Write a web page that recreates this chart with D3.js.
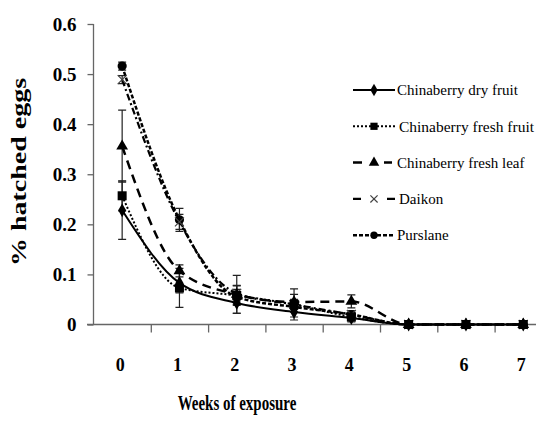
<!DOCTYPE html>
<html>
<head>
<meta charset="utf-8">
<script src="https://cdn.jsdelivr.net/npm/d3@7/dist/d3.min.js"></script>
<style>
  html, body { margin: 0; padding: 0; background: #fff; }
  svg { display: block; }
  text { font-family: "Liberation Serif", "Times New Roman", serif; }
</style>
</head>
<body>
<svg id="chart" width="536" height="421"></svg>
<script>
// ---- data ----
const weeks = [0, 1, 2, 3, 4, 5, 6, 7];
const yTicks = [0, 0.1, 0.2, 0.3, 0.4, 0.5, 0.6];
const seriesNames = ["Chinaberry dry fruit", "Chinaberry fresh fruit", "Chinaberry fresh leaf", "Daikon", "Purslane"];
const dryFruit   = [0.228, 0.083, 0.043, 0.025, 0.013, 0, 0, 0];
const freshFruit = [0.257, 0.073, 0.058, 0.040, 0.015, 0, 0, 0];
const freshLeaf  = [0.356, 0.107, 0.060, 0.045, 0.046, 0, 0, 0];
const daikon     = [0.489, 0.205, 0.062, 0.040, 0.020, 0, 0, 0];
const purslane   = [0.516, 0.209, 0.055, 0.035, 0.020, 0, 0, 0];
const dryFruitErr   = [0.058, 0.020, 0.020, 0.010, 0.008, 0, 0, 0];
const freshFruitErr = [0.030, 0.039, 0.020, 0.031, 0.008, 0, 0, 0];
const freshLeafErr  = [0.072, 0.012, 0.038, 0.015, 0.013, 0, 0, 0];
const daikonErr     = [0.008, 0.015, 0.015, 0.010, 0.008, 0, 0, 0];
const purslaneErr   = [0.008, 0.023, 0.015, 0.010, 0.008, 0, 0, 0];

const values = [dryFruit, freshFruit, freshLeaf, daikon, purslane];
const errors = [dryFruitErr, freshFruitErr, freshLeafErr, daikonErr, purslaneErr];

// ---- styles (kept separate from data) ----
const styles = [
  { dash: null,      width: 2,   marker: "diamond" },
  { dash: "2,2",     width: 2,   marker: "square" },
  { dash: "9,6",     width: 2.5, marker: "triangle" },
  { dash: "7,3,2,3", width: 2.2, marker: "cross" },
  { dash: "4,2",     width: 2.5, marker: "circle" }
];

const svg = d3.select("#chart");
const serif = "Liberation Serif, Times New Roman, serif";

const xBand = d3.scaleBand().domain(weeks).range([93.5, 93.5 + 8 * 57.3]).paddingInner(0).paddingOuter(0);
const xLin = d3.scaleLinear().domain([0, 8]).range([93.5, 93.5 + 8 * 57.3]);
const y = d3.scaleLinear().domain([0, 0.6]).range([324.5, 24]);
const cx = w => xBand(w) + xBand.bandwidth() / 2;

// ---- axes ----
const yAxis = svg.append("g").attr("transform", "translate(93.5,0)")
  .call(d3.axisLeft(y).tickValues(yTicks).tickSize(6).tickPadding(11)
    .tickFormat(d => d === 0 ? "0" : d3.format(".1f")(d)));
yAxis.attr("font-family", null);
yAxis.select(".domain").attr("stroke", "#666").attr("stroke-width", 1.3).attr("d", "M0," + y(0.6) + "V" + y(0));
yAxis.selectAll(".tick line").attr("stroke", "#666").attr("stroke-width", 1.3);
yAxis.selectAll(".tick text").style("font-family", serif).style("font-weight", "bold")
  .style("font-size", "19px").attr("fill", "#000");

const xAxis = svg.append("g").attr("transform", "translate(0,324.5)")
  .call(d3.axisBottom(xLin).tickValues([1, 2, 3, 4, 5, 6, 7, 8]).tickSize(8).tickFormat(""));
xAxis.select(".domain").attr("stroke", "#666").attr("stroke-width", 1.3).attr("d", "M87,0H560");
xAxis.selectAll(".tick line").attr("stroke", "#666").attr("stroke-width", 1.3);

const xLabels = svg.append("g").attr("transform", "translate(0,324.5)")
  .call(d3.axisBottom(xBand).tickSize(0).tickPadding(34));
xLabels.attr("font-family", null);
xLabels.select(".domain").remove();
xLabels.selectAll(".tick text").style("font-family", serif).style("font-weight", "bold")
  .style("font-size", "18px").attr("fill", "#000").attr("transform", "translate(-2,0)");

// axis titles
svg.append("text")
  .attr("transform", "translate(237,410) scale(0.75,1)")
  .attr("text-anchor", "middle").style("font-family", serif).style("font-weight", "bold")
  .style("font-size", "20px").text("Weeks of exposure");

svg.append("text")
  .attr("transform", "translate(26,172) rotate(-90) scale(1,0.78)")
  .attr("text-anchor", "middle").style("font-family", serif).style("font-weight", "bold")
  .style("font-size", "28px").text("% hatched eggs");

// ---- markers ----
function drawMarker(g, type, x0, y0, s) {
  s = s || 1;
  if (type === "diamond") {
    g.append("path").attr("d", d3.symbol().type(d3.symbolDiamond).size(55 * s)())
      .attr("transform", `translate(${x0},${y0})`).attr("fill", "#000");
  } else if (type === "square") {
    g.append("rect").attr("x", x0 - 4.5 * s).attr("y", y0 - 4.5 * s)
      .attr("width", 9 * s).attr("height", 9 * s).attr("fill", "#000");
  } else if (type === "triangle") {
    g.append("path").attr("d", d3.symbol().type(d3.symbolTriangle).size(60 * s)())
      .attr("transform", `translate(${x0},${y0})`).attr("fill", "#000");
  } else if (type === "cross") {
    const r = 4.5 * s;
    g.append("path").attr("d", `M${x0 - r},${y0 - r}L${x0 + r},${y0 + r}M${x0 + r},${y0 - r}L${x0 - r},${y0 + r}`)
      .attr("stroke", "#444").attr("stroke-width", 1.2).attr("fill", "none");
  } else if (type === "circle") {
    g.append("circle").attr("cx", x0).attr("cy", y0).attr("r", 4.6 * s).attr("fill", "#000");
  }
}

const line = d3.line().x((d, i) => cx(weeks[i])).y(d => y(d)).curve(d3.curveMonotoneX);

const order = [4, 3, 2, 0, 1];
const plot = svg.append("g");
// error bars
order.forEach(si => {
  const g = plot.append("g");
  values[si].forEach((v, i) => {
    const e = errors[si][i];
    if (!e) return;
    const xx = cx(weeks[i]);
    g.append("path")
      .attr("d", `M${xx},${y(v - e)}V${y(v + e)}M${xx - 4},${y(v - e)}H${xx + 4}M${xx - 4},${y(v + e)}H${xx + 4}`)
      .attr("stroke", "#222").attr("stroke-width", 1.2).attr("fill", "none");
  });
});
// lines
order.forEach(si => {
  plot.append("path").datum(values[si]).attr("d", line)
    .attr("fill", "none").attr("stroke", "#000")
    .attr("stroke-width", styles[si].width)
    .attr("stroke-dasharray", styles[si].dash);
});
// markers
order.forEach(si => {
  const g = plot.append("g");
  values[si].forEach((v, i) => drawMarker(g, styles[si].marker, cx(weeks[i]), y(v)));
});

// ---- legend ----
const legend = svg.append("g");
seriesNames.forEach((name, i) => {
  const ly = 90 + 36.3 * i;
  legend.append("line").attr("x1", 353).attr("x2", 395).attr("y1", ly).attr("y2", ly)
    .attr("stroke", "#000").attr("stroke-width", styles[i].width)
    .attr("stroke-dasharray", styles[i].dash === "7,3,2,3" ? "8,26" : styles[i].dash);
  if (i === 2) {
    legend.append("rect").attr("x", 364).attr("y", ly - 6).attr("width", 20).attr("height", 12).attr("fill", "#fff");
  }
  drawMarker(legend, styles[i].marker, 374, ly, 0.8);
  const t = legend.append("text").attr("x", i === 1 || i === 3 ? 399 : 397).attr("y", ly).attr("dy", "0.35em")
    .style("font-family", serif).style("font-size", "15px").attr("fill", "#000").text(name);
  if (i === 1) t.attr("textLength", 135).attr("lengthAdjust", "spacingAndGlyphs");
});
</script>
</body>
</html>
